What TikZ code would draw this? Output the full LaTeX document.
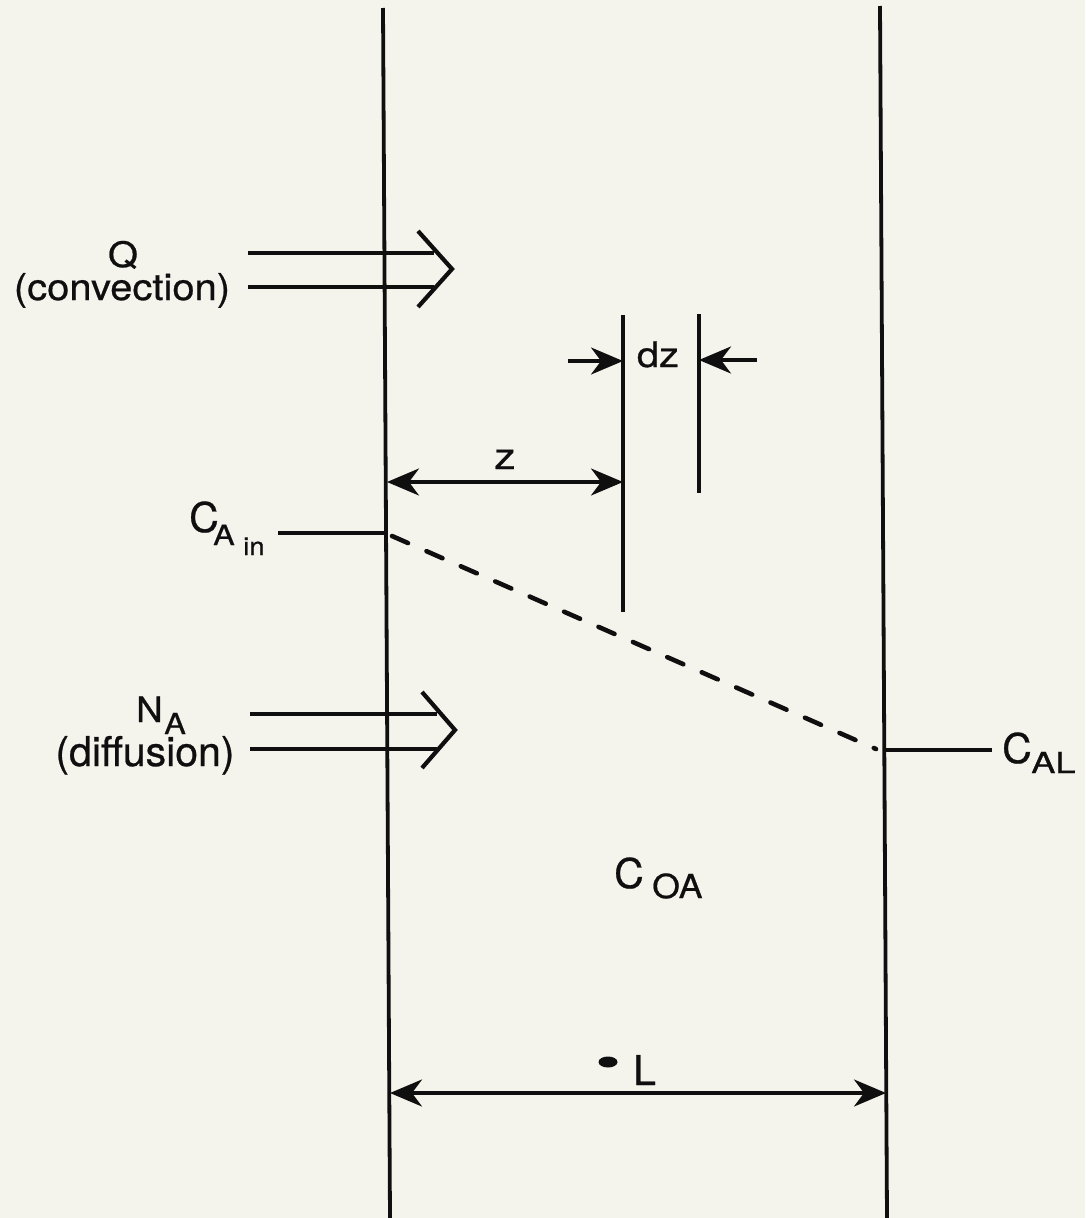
\documentclass[tikz,border=0pt]{standalone}
\usepackage{fontspec}
\setmainfont{TeX Gyre Heros}[FakeBold=0.6]
\usetikzlibrary{arrows.meta}
\definecolor{paper}{RGB}{244,243,236}
\definecolor{ink}{RGB}{15,15,15}
\begin{document}
\begin{tikzpicture}[x=1pt,y=-1pt,
  >={Stealth[length=32pt,width=27pt,inset=10pt]},
  wall/.style={line width=3.8pt,draw=ink},
  guide/.style={line width=3.3pt,draw=ink},
  flux/.style={line width=4.2pt,draw=ink},
  dimline/.style={line width=3.4pt,draw=ink,<->},
  oneway/.style={line width=3.4pt,draw=ink,->},
  conc/.style={line width=4.6pt,draw=ink,line cap=round,dash pattern=on 17.5pt off 20.1pt},
  lbl/.style={inner sep=0pt,text=ink},
  f41/.style={lbl,font=\fontsize{41}{43}\selectfont},
  f37/.style={lbl,font=\fontsize{37}{39}\selectfont},
  f35/.style={lbl,font=\fontsize{35}{37}\selectfont},
  f33/.style={lbl,font=\fontsize{33}{35}\selectfont},
  f30/.style={lbl,font=\fontsize{30}{32}\selectfont},
  f29/.style={lbl,font=\fontsize{29}{31}\selectfont},
  f28/.style={lbl,font=\fontsize{28}{30}\selectfont},
  f25/.style={lbl,font=\fontsize{25}{27}\selectfont}
]
\fill[paper] (0,0) rectangle (1085,1218);
\useasboundingbox (0,0) rectangle (1085,1218);

% walls
\coordinate (lwT) at (383,8);
\coordinate (lwB) at (390,1218);
\coordinate (rwT) at (880,6);
\coordinate (rwB) at (887,1218);
\draw[wall] (lwT) -- (lwB);
\draw[wall] (rwT) -- (rwB);

% convection arrow
\coordinate (q1s) at (248,253); \coordinate (q1e) at (434,253);
\coordinate (q2s) at (248,287); \coordinate (q2e) at (434,287);
\coordinate (qa) at (418,231); \coordinate (qt) at (452,269); \coordinate (qb) at (418,307);
\draw[flux] (q1s) -- (q1e);
\draw[flux] (q2s) -- (q2e);
\draw[flux,line join=miter] (qa) -- (qt) -- (qb);
\node[f35,xscale=1.1,anchor=base] (Q) at (123,267) {Q};
\node[f37,xscale=1.08,anchor=base] (conv) at (122,300) {(convection)};

% diffusion arrow
\coordinate (n1s) at (250,714); \coordinate (n1e) at (437,714);
\coordinate (n2s) at (250,749); \coordinate (n2e) at (437,749);
\coordinate (na) at (422,692); \coordinate (nt) at (455,730); \coordinate (nb) at (422,768);
\draw[flux] (n1s) -- (n1e);
\draw[flux] (n2s) -- (n2e);
\draw[flux,line join=miter] (na) -- (nt) -- (nb);
\node[f35,xscale=1.05,anchor=base west] (N) at (136,722) {N};
\node[f29,xscale=1.12,anchor=base west] (NA) at (164,734) {A};
\node[f41,anchor=base] (diff) at (145,766) {(diffusion)};

% dz slice
\coordinate (s1T) at (623,315); \coordinate (s1B) at (623,612);
\coordinate (s2T) at (699,314); \coordinate (s2B) at (699,493);
\draw[guide] (s1T) -- (s1B);
\draw[guide] (s2T) -- (s2B);
\coordinate (d1s) at (568,361); \coordinate (d1e) at (623,361);
\coordinate (d2s) at (757,360); \coordinate (d2e) at (699,360);
\draw[oneway] (d1s) -- (d1e);
\draw[oneway] (d2s) -- (d2e);
\node[f35,xscale=1.14,anchor=base] (dz) at (658,367) {dz};

% z dimension
\coordinate (z1) at (387,482); \coordinate (z2) at (623,482);
\draw[dimline] (z1) -- (z2);
\node[f37,xscale=1.15,anchor=base] (zl) at (505,469) {z};

% C_A,in
\coordinate (cin1) at (278,533); \coordinate (cin2) at (387,533);
\draw[guide] (cin1) -- (cin2);
\node[f41,anchor=base west] (Cin) at (189,532) {C};
\node[f28,xscale=1.15,anchor=base west] (CinA) at (213,545) {A};
\node[f25,xscale=1.1,anchor=base west] (Cinin) at (243,555) {in};

% concentration profile
\coordinate (p1) at (392,536); \coordinate (p2) at (876,749);
\draw[conc] (p1) -- (p2);

% C_AL
\coordinate (cal1) at (885,750); \coordinate (cal2) at (992,750);
\draw[guide] (cal1) -- (cal2);
\node[f41,anchor=base west] (CAL) at (1002,763) {C};
\node[f29,xscale=1.25,anchor=base west] (CALs) at (1031,773) {AL};

% C_OA
\node[f41,anchor=base west] (COA) at (614,888) {C};
\node[f33,xscale=1.08,anchor=base west] (COAs) at (652,898) {OA};

% L dimension
\coordinate (L1) at (390,1093); \coordinate (L2) at (886,1093);
\draw[dimline] (L1) -- (L2);
\fill[ink] (608,1062) ellipse (9.5pt and 5.5pt);
\node[f41,anchor=base west] (Ll) at (633,1085) {L};
\end{tikzpicture}
\end{document}
